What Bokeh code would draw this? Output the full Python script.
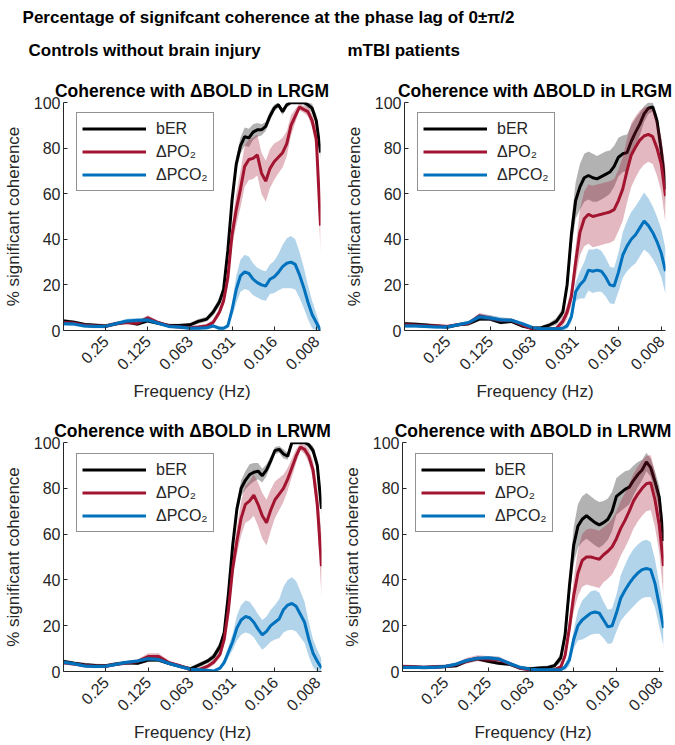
import math
import numpy as np
from bokeh.plotting import figure
from bokeh.layouts import column, row
from bokeh.models import (Range1d, FixedTicker, Label, Legend, LegendItem)
from bokeh.embed import file_html
from bokeh.resources import INLINE

FONT = "Liberation Sans"
AX = "#262626"

# frequency samples (Hz)
FREQ = [0.5, 0.4204, 0.3536, 0.2973, 0.25, 0.2102, 0.1768, 0.1487, 0.125, 0.1051,
        0.08839, 0.07433, 0.0625, 0.05441, 0.04737, 0.04269, 0.03848, 0.0359, 0.03349,
        0.03125, 0.02916, 0.0272, 0.02538, 0.02368, 0.0221, 0.02062, 0.01924, 0.01795,
        0.01675, 0.01563, 0.01458, 0.0136, 0.01269, 0.01184, 0.01105, 0.01031, 0.00962,
        0.00897, 0.00837, 0.00781, 0.00729]

TICKS = [0.25, 0.125, 0.0625, 0.03125, 0.015625, 0.0078125]
TICK_LABELS = ["0.25", "0.125", "0.063", "0.031", "0.016", "0.008"]
Y_TICKS = [0, 20, 40, 60, 80, 100]

# ---- Controls, LRGM ----
BER_CTRL_GM = [4.2, 3.6, 2.6, 2.3, 2.0, 3.0, 3.8, 2.8, 4.2, 3.2, 2.2, 2.2, 2.5,
               4.0, 5.0, 8.0, 12.5, 18.0, 35.0,
               57.0, 73.0, 81.0, 85.0, 84.5, 87.0, 88.0, 88.0, 89.5, 94.0, 97.5, 99.0,
               96.0, 99.0, 100.0, 100.0, 100.0, 100.0, 99.0, 97.5, 92.0, 78.0]
BER_CTRL_GM_SD = [0.8] * 13 + [1, 1, 1.5, 2, 2, 3] + \
                 [3, 3, 3.5, 4, 4, 3.5, 3, 2.5, 2, 2, 1.5, 1.2, 1.5, 1.2, 1, 1, 1, 1.2, 1.5, 2, 2.5, 3]
PO2_CTRL_GM = [3.5, 3.2, 2.3, 2.0, 1.8, 3.0, 3.5, 3.2, 5.5, 3.5, 2.0, 1.5, 1.2,
               1.5, 2.0, 3.5, 8.0, 13.0, 23.0,
               42.0, 53.0, 62.0, 72.0, 75.0, 75.5, 77.0, 69.0, 65.5, 71.0, 74.0, 76.0,
               78.0, 82.0, 90.0, 94.0, 98.0, 97.0, 96.0, 92.0, 84.0, 46.0]
PO2_CTRL_GM_SD = [0.8, 0.8, 0.8, 0.8, 0.8, 0.8, 0.8, 0.8, 1.2, 0.8, 0.8, 0.8, 0.8] + \
                 [0.8, 1, 1.2, 1.5, 2, 3] + \
                 [5, 7, 8, 9, 9, 9, 9, 9, 9, 8.5, 8, 7, 6.5, 5.5, 4.5, 3, 1.5, 1.5, 2, 3, 5, 12]
PCO2_CTRL_GM = [3.0, 2.8, 2.0, 1.8, 1.8, 3.0, 4.2, 4.5, 4.6, 3.2, 1.8, 1.5, 1.0,
                1.0, 1.2, 2.0, 1.0, 1.0, 2.0,
                9.0, 18.0, 24.0, 25.7, 25.0, 22.5, 21.0, 20.0, 19.5, 22.5, 23.5, 25.5,
                28.0, 29.5, 30.0, 29.0, 24.5, 19.0, 12.5, 7.0, 3.5, 0.0]
PCO2_CTRL_GM_SD = [0.8] * 6 + [1.0, 1.0, 1.0] + [0.8] * 4 + [0.8, 0.8, 0.8, 0.8, 0.8, 1.0] + \
                  [3, 6, 7, 7.5, 7.5, 7, 6.5, 6.5, 6.5, 6.5, 7, 8, 9.5, 11, 11.5, 11, 10, 9, 7.5, 6, 4, 1.5]

# ---- mTBI, LRGM ----
BER_MTBI_GM = [3.0, 2.7, 2.4, 2.0, 1.5, 2.5, 3.0, 5.0, 5.0, 3.5, 4.0, 2.0, 1.0,
               1.2, 2.5, 4.0, 8.0, 20.0, 42.0,
               57.0, 63.0, 67.0, 68.0, 67.0, 66.5, 67.5, 68.5, 69.5, 72.0, 76.0, 77.5,
               78.0, 83.0, 87.0, 90.5, 95.0, 97.5, 98.0, 92.0, 79.0, 62.0]
BER_MTBI_GM_SD = [0.8] * 13 + [0.8, 1, 1.5, 2, 3, 6] + \
                 [8, 10, 10.5, 10.5, 10.5, 10, 10, 10, 9.5, 9, 8.5, 8, 8, 7, 6, 5, 3.5, 2.5, 2, 3, 5, 8]
PO2_MTBI_GM = [2.5, 2.3, 2.0, 2.0, 1.8, 2.5, 3.2, 6.5, 5.5, 4.5, 4.5, 2.5, 0.5,
               0.5, 0.8, 1.0, 4.0, 8.0, 15.0,
               30.0, 43.0, 49.0, 51.0, 50.0, 50.5, 51.0, 51.5, 52.0, 53.0, 57.0, 62.0,
               70.0, 77.0, 80.5, 83.5, 85.3, 86.0, 85.0, 80.0, 73.0, 59.0]
PO2_MTBI_GM_SD = [0.8] * 7 + [1.2, 1.2] + [0.8] * 4 + [0.5, 0.5, 0.8, 2, 3, 4] + \
                 [7, 10, 12, 13, 13.5, 13.5, 13.5, 13.5, 13.5, 13.5, 13.5, 14, 14, 14, 13.5, 13, 12.5, 12, 12, 12, 12, 12]
PCO2_MTBI_GM = [2.0, 2.0, 1.8, 1.5, 1.5, 2.5, 3.5, 6.0, 5.5, 4.7, 4.5, 3.0, 1.2,
                0.8, 0.8, 0.8, 1.0, 2.0, 6.0,
                17.0, 20.0, 22.0, 26.5, 26.0, 26.5, 26.0, 23.5, 20.0, 19.5, 25.5, 33.0,
                37.0, 40.0, 42.0, 45.0, 48.0, 46.0, 43.0, 39.0, 34.0, 26.0]
PCO2_MTBI_GM_SD = [0.8] * 7 + [1.2, 1.2, 1.2] + [0.8] * 3 + [0.5, 0.5, 0.5, 0.8, 1.5, 2.5] + \
                  [4, 6, 8, 9, 9.5, 9.5, 9, 8.5, 8, 8, 8.5, 10, 11, 12, 12.5, 12.5, 12.5, 12, 11.5, 11, 10.5, 10]

# ---- Controls, LRWM ----
BER_CTRL_WM = [4.4, 3.6, 3.0, 2.6, 2.5, 3.3, 3.8, 3.6, 5.0, 5.0, 3.5, 2.3, 1.2,
               2.8, 4.5, 6.5, 11.0, 17.0, 34.0,
               55.0, 71.0, 80.0, 83.5, 86.0, 87.0, 87.5, 85.5, 88.0, 92.0, 96.5, 97.0,
               95.0, 94.0, 100.0, 100.0, 100.0, 100.0, 99.0, 96.5, 90.0, 71.0]
BER_CTRL_WM_SD = [0.8] * 13 + [1, 1, 1.5, 2, 2, 3] + \
                 [3, 3, 3.5, 4, 4.5, 4, 3.5, 3, 2.5, 2, 1.5, 1.5, 2, 1.5, 1, 1, 1, 1, 1.5, 2, 2.5, 3]
PO2_CTRL_WM = [3.8, 3.3, 2.6, 2.3, 2.3, 3.2, 3.8, 4.4, 6.5, 6.5, 3.8, 2.5, 0.8,
               0.8, 2.2, 4.0, 7.5, 14.0, 27.0,
               45.0, 57.0, 67.0, 73.0, 74.5, 77.0, 73.0, 68.0, 65.0, 70.5, 75.0, 77.5,
               80.0, 84.0, 89.0, 94.0, 98.0, 97.0, 94.0, 88.0, 73.0, 46.0]
PO2_CTRL_WM_SD = [0.8] * 8 + [1.5, 1.5] + [0.8] * 3 + [0.8, 1, 1.2, 1.5, 2, 3] + \
                 [4, 6, 7.5, 8, 8.5, 9, 9.5, 10, 10, 9, 8, 7, 6, 5, 4, 3, 1.5, 2, 3, 4, 7, 14]
PCO2_CTRL_WM = [4.0, 3.4, 2.4, 2.2, 2.3, 3.2, 4.0, 4.6, 5.6, 5.2, 3.5, 2.2, 1.0,
                0.8, 0.5, 0.2, 1.5, 4.0, 8.5,
                13.0, 19.0, 22.5, 24.0, 23.5, 21.5, 18.5, 16.0, 17.5, 20.0, 21.5, 23.0,
                27.0, 29.0, 29.7, 28.5, 25.0, 21.5, 14.0, 8.0, 4.5, 1.5]
PCO2_CTRL_WM_SD = [0.8] * 13 + [0.5, 0.5, 0.5, 0.8, 1.5, 2.5] + \
                  [3.5, 5.5, 6.5, 7, 7, 6.5, 6.5, 6.5, 6.5, 7, 7.5, 8.5, 10, 11, 11.5, 11, 10, 9, 7.5, 6, 5, 4]

# ---- mTBI, LRWM ----
BER_MTBI_WM = [2.2, 2.0, 1.8, 2.0, 2.2, 2.5, 4.5, 5.5, 4.5, 3.6, 3.2, 1.5, 1.2,
               1.5, 1.8, 2.5, 6.0, 16.0, 37.0,
               55.0, 63.5, 66.5, 68.0, 66.5, 65.0, 64.0, 65.0, 66.5, 70.0, 76.5, 78.0,
               79.5, 80.5, 83.5, 86.0, 88.0, 91.5, 89.0, 83.0, 76.0, 57.0]
BER_MTBI_WM_SD = [0.8] * 13 + [0.8, 0.8, 1, 2, 3, 5] + \
                 [8, 9.5, 10, 10, 10, 10, 10, 9.5, 9, 8.5, 8, 8, 8, 7.5, 6.5, 5.5, 4.5, 4, 4, 4.5, 5, 8]
PO2_MTBI_WM = [2.2, 2.0, 1.8, 2.0, 2.2, 3.0, 4.7, 5.8, 5.5, 5.2, 3.5, 1.5, 0.5,
               0.5, 0.6, 0.8, 2.0, 7.0, 19.0,
               33.0, 43.0, 48.5, 50.0, 50.0, 49.5, 49.0, 51.0, 52.5, 54.5, 58.0, 62.5,
               66.0, 70.0, 74.5, 77.5, 80.0, 82.0, 82.5, 75.0, 64.0, 46.0]
PO2_MTBI_WM_SD = [0.8] * 6 + [1.3, 1.3, 1.3, 1.3] + [0.8] * 3 + [0.5, 0.5, 0.5, 1, 2, 3.5] + \
                 [7, 10, 11.5, 12, 12.5, 12.5, 12.5, 12, 12, 12, 12, 12, 12, 12, 12, 12, 12, 12, 12, 12, 12, 13]
PCO2_MTBI_WM = [1.8, 1.8, 1.8, 1.8, 2.2, 3.2, 4.8, 5.8, 6.0, 5.5, 3.5, 1.8, 1.0,
                0.8, 0.8, 0.8, 0.8, 2.0, 5.0,
                14.0, 20.0, 22.5, 24.0, 25.5, 26.0, 25.5, 22.5, 19.5, 20.0, 25.5, 32.0,
                35.5, 38.5, 41.0, 43.0, 44.5, 45.0, 44.5, 38.5, 29.0, 19.0]
PCO2_MTBI_WM_SD = [0.8] * 13 + [0.5, 0.5, 0.5, 0.5, 1.5, 2.5] + \
                  [4, 6.5, 8.5, 9, 9.5, 9.5, 9, 8, 7.5, 7.5, 8, 10, 11, 12, 12.5, 12.5, 12.5, 12.5, 12, 10.5, 9.5, 8]

SERIES_LABELS = ["bER", "ΔPO₂", "ΔPCO₂"]
SERIES_COLORS = ["#000000", "#A2142F", "#0072BD"]


def make_panel(title, data, width, height, bl, br, bt, bb):
    p = figure(width=width, height=height, x_axis_type="log",
               x_range=Range1d(0.5, 0.00729), y_range=Range1d(0, 100),
               output_backend="svg", toolbar_location=None,
               min_border_left=bl, min_border_right=br,
               min_border_top=bt, min_border_bottom=bb)
    p.outline_line_color = None
    p.grid.visible = False
    p.background_fill_color = "white"
    p.border_fill_color = "white"

    p.title.text = title
    p.title.align = "center"
    p.title.text_font = FONT
    p.title.text_font_size = "17.5px"
    p.title.text_font_style = "bold"
    p.title.text_color = "black"
    p.title.standoff = 4

    x = np.array(FREQ)
    items = []
    for (mean, sd), color, lab in zip(data, SERIES_COLORS, SERIES_LABELS):
        m = np.array(mean)
        s = np.array(sd)
        lo = np.clip(m - s, 0, 100)
        hi = np.clip(m + s, 0, 100)
        p.varea(x=x, y1=lo, y2=hi, fill_color=color, fill_alpha=0.3)
        r = p.line(x, m, line_color=color, line_width=3)
        items.append(LegendItem(label=lab, renderers=[r]))

    legend = Legend(items=items, location=(13, 139))
    legend.label_text_font = FONT
    legend.label_text_font_size = "16px"
    legend.label_text_color = AX
    legend.border_line_color = AX
    legend.border_line_width = 1
    legend.background_fill_alpha = 1.0
    legend.glyph_width = 64
    legend.glyph_height = 21
    legend.label_height = 21
    legend.label_standoff = 10
    legend.padding = 5
    legend.spacing = 2
    legend.margin = 0
    p.add_layout(legend)

    xa = p.xaxis[0]
    xa.ticker = FixedTicker(ticks=TICKS)
    xa.major_label_overrides = {t: l for t, l in zip(TICKS, TICK_LABELS)}
    xa.major_label_orientation = math.pi / 4
    xa.axis_label = "Frequency (Hz)"
    xa.axis_label_standoff = 4
    xa.major_label_standoff = 8

    ya = p.yaxis[0]
    ya.ticker = FixedTicker(ticks=Y_TICKS)
    ya.axis_label = "% significant coherence"
    ya.axis_label_standoff = 8
    ya.major_label_standoff = 3

    for a in (xa, ya):
        a.minor_tick_line_color = None
        a.major_tick_in = 4
        a.major_tick_out = 0
        a.axis_line_color = AX
        a.major_tick_line_color = AX
        a.major_label_text_font = FONT
        a.major_label_text_font_size = "16px"
        a.major_label_text_color = AX
        a.axis_label_text_font = FONT
        a.axis_label_text_font_size = "17px"
        a.axis_label_text_font_style = "normal"
        a.axis_label_text_color = AX
    return p


p1 = make_panel("Coherence with ΔBOLD in LRGM",
                [(BER_CTRL_GM, BER_CTRL_GM_SD), (PO2_CTRL_GM, PO2_CTRL_GM_SD),
                 (PCO2_CTRL_GM, PCO2_CTRL_GM_SD)],
                335, 338, 58, 15, 36, 73)
p2 = make_panel("Coherence with ΔBOLD in LRGM",
                [(BER_MTBI_GM, BER_MTBI_GM_SD), (PO2_MTBI_GM, PO2_MTBI_GM_SD),
                 (PCO2_MTBI_GM, PCO2_MTBI_GM_SD)],
                340, 338, 69, 10, 36, 73)
p3 = make_panel("Coherence with ΔBOLD in LRWM",
                [(BER_CTRL_WM, BER_CTRL_WM_SD), (PO2_CTRL_WM, PO2_CTRL_WM_SD),
                 (PCO2_CTRL_WM, PCO2_CTRL_WM_SD)],
                335, 341, 59, 14, 38, 74)
p4 = make_panel("Coherence with ΔBOLD in LRWM",
                [(BER_MTBI_WM, BER_MTBI_WM_SD), (PO2_MTBI_WM, PO2_MTBI_WM_SD),
                 (PCO2_MTBI_WM, PCO2_MTBI_WM_SD)],
                340, 341, 67, 12, 38, 74)

# header with overall and column titles
hdr = figure(width=675, height=66, x_range=Range1d(0, 675), y_range=Range1d(0, 66),
             output_backend="svg", toolbar_location=None, min_border=0,
             x_axis_location=None, y_axis_location=None)
hdr.outline_line_color = None
hdr.grid.visible = False
for txt, xx, yy, al in [("Percentage of signifcant coherence at the phase lag of 0±π/2", 268, 49, "center"),
                        ("Controls without brain injury", 28, 16, "left"),
                        ("mTBI patients", 347, 16, "left")]:
    hdr.add_layout(Label(x=xx, y=yy, x_units="screen", y_units="screen", text=txt,
                         text_font=FONT, text_font_size="17px", text_font_style="bold",
                         text_color="black", text_align=al, text_baseline="alphabetic"))

layout = column(hdr, row(p1, p2), row(p3, p4))
open("out.html", "w").write(file_html(layout, INLINE))
